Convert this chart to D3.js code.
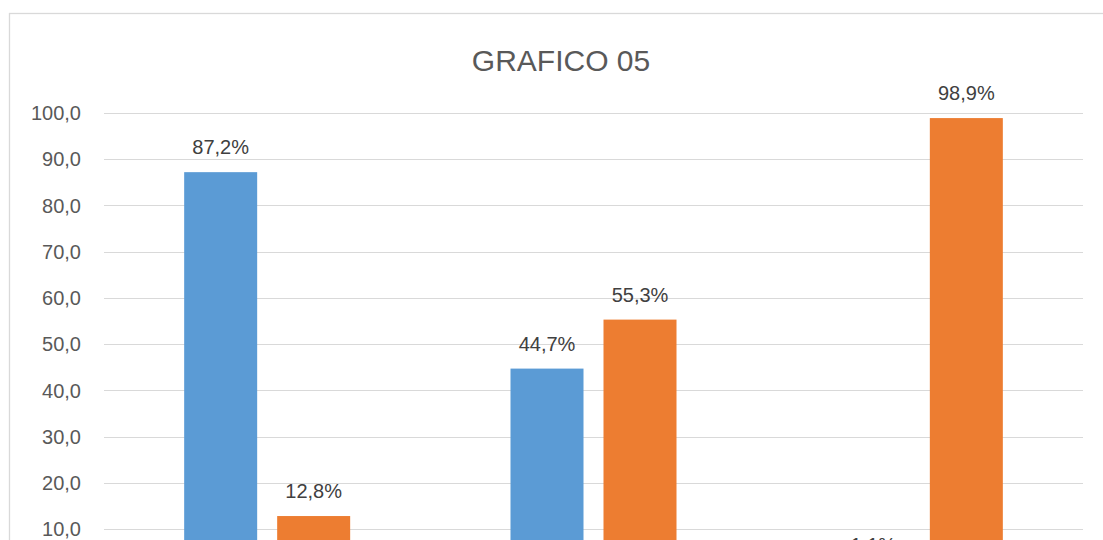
<!DOCTYPE html>
<html lang="es">
<head>
    <meta charset="UTF-8">
    <title>GRAFICO 05</title>
    <script src="https://d3js.org/d3.v7.min.js"></script>
    <style>
        body {
            margin: 0;
            padding: 0;
            overflow: hidden;
            background: #fff;
            font-family: "Liberation Sans", Arial, sans-serif;
        }
        svg { display: block; }
        .grid line { stroke: #d9d9d9; stroke-width: 1px; shape-rendering: crispEdges; }
        .tick-label { font-size: 20px; fill: #595959; }
        .bar-label { font-size: 20px; fill: #404040; }
        .title { font-size: 30px; fill: #595959; }
    </style>
</head>
<body>
    <div id="chart"></div>

    <script>
        // Datos
        const categorias = [0, 1, 2];
        const series = ["serie1", "serie2"];
        const valoresAzul = [87.2, 44.7, 1.1];
        const valoresNaranja = [12.8, 55.3, 98.9];
        const ticksY = [10, 20, 30, 40, 50, 60, 70, 80, 90, 100];
        const colores = ["#5B9BD5", "#ED7D31"];

        const W = 1103, H = 720;
        const plot = { left: 104, right: 1083, top: 113, bottom: 575.2 };

        const svg = d3.select("#chart").append("svg")
            .attr("width", W)
            .attr("height", H);

        // marco del gráfico
        svg.append("rect")
            .attr("x", 9.5).attr("y", 13.5)
            .attr("width", 1120).attr("height", 700)
            .attr("fill", "#fff")
            .attr("stroke", "#d9d9d9")
            .attr("stroke-width", 1.3);

        svg.append("text")
            .attr("class", "title")
            .attr("x", 561).attr("y", 71)
            .attr("text-anchor", "middle")
            .text("GRAFICO 05");

        const y = d3.scaleLinear()
            .domain([0, 100])
            .range([plot.bottom, plot.top]);

        const x0 = d3.scaleBand()
            .domain(categorias)
            .range([plot.left, plot.right])
            .padding(0);

        const grupo = 166;
        const x1 = d3.scaleBand()
            .domain(series)
            .range([(x0.bandwidth() - grupo) / 2, (x0.bandwidth() + grupo) / 2])
            .paddingInner(20 / 93)
            .paddingOuter(0);

        const es = d3.formatLocale({ decimal: ",", thousands: ".", grouping: [3], currency: ["", "€"] });
        const fmtEje = es.format(".1f");
        const fmtPct = v => es.format(".1f")(v) + "%";

        // líneas de cuadrícula
        svg.append("g").attr("class", "grid")
            .selectAll("line")
            .data([0].concat(ticksY))
            .enter().append("line")
            .attr("x1", plot.left).attr("x2", plot.right)
            .attr("y1", d => Math.round(y(d)) + 0.5)
            .attr("y2", d => Math.round(y(d)) + 0.5);

        svg.append("g")
            .selectAll("text")
            .data(ticksY)
            .enter().append("text")
            .attr("class", "tick-label")
            .attr("x", 81)
            .attr("y", d => y(d))
            .attr("dy", "0.36em")
            .attr("text-anchor", "end")
            .text(d => fmtEje(d));

        const datos = categorias.map(c => ({
            cat: c,
            valores: [
                { serie: series[0], v: valoresAzul[c] },
                { serie: series[1], v: valoresNaranja[c] }
            ]
        }));

        const g = svg.selectAll(".cat")
            .data(datos)
            .enter().append("g")
            .attr("class", "cat")
            .attr("transform", d => `translate(${x0(d.cat)},0)`);

        g.selectAll("rect")
            .data(d => d.valores)
            .enter().append("rect")
            .attr("x", d => x1(d.serie))
            .attr("y", d => y(d.v))
            .attr("width", x1.bandwidth())
            .attr("height", d => y(0) - y(d.v))
            .attr("fill", (d, i) => colores[i]);

        g.selectAll(".bar-label")
            .data(d => d.valores)
            .enter().append("text")
            .attr("class", "bar-label")
            .attr("x", d => x1(d.serie) + x1.bandwidth() / 2)
            .attr("y", d => y(d.v) - 18)
            .attr("text-anchor", "middle")
            .text(d => fmtPct(d.v));
    </script>
</body>
</html>
